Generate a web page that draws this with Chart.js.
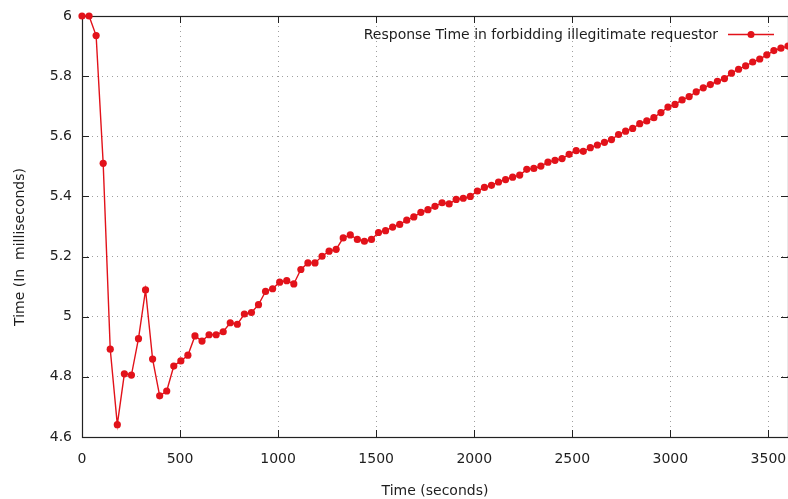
<!DOCTYPE html>
<html><head><meta charset="utf-8">
<script src="https://cdn.jsdelivr.net/npm/chart.js@4/dist/chart.umd.min.js"></script>
<style>
html,body{margin:0;padding:0;overflow:hidden;background:#fff;width:788px;height:499px}
#wrap{position:relative;width:792px;height:499px}
</style>
</head><body><div id="wrap"><canvas id="c"></canvas></div>
<script>
const seriesLabel = 'Response Time in forbidding illegitimate requestor';
const xTitle = 'Time (seconds)';
const yTitle = 'Time (In  milliseconds)';
const timeSeconds = [
  0,36,72,108,144,180,216,252,288,324,
  360,396,432,468,504,540,576,612,648,684,
  720,756,792,828,864,900,936,972,1008,1044,
  1080,1116,1152,1188,1224,1260,1296,1332,1368,1404,
  1440,1476,1512,1548,1584,1620,1656,1692,1728,1764,
  1800,1836,1872,1908,1944,1980,2016,2052,2088,2124,
  2160,2196,2232,2268,2304,2340,2376,2412,2448,2484,
  2520,2556,2592,2628,2664,2700,2736,2772,2808,2844,
  2880,2916,2952,2988,3024,3060,3096,3132,3168,3204,
  3240,3276,3312,3348,3384,3420,3456,3492,3528,3564,
  3600
];
const responseMs = [
  6.0,6.0,5.935,5.51,4.892,4.641,4.81,4.806,4.927,5.089,
  4.859,4.737,4.753,4.836,4.853,4.872,4.936,4.919,4.94,4.94,
  4.95,4.98,4.975,5.009,5.014,5.04,5.084,5.093,5.115,5.12,
  5.109,5.157,5.179,5.179,5.201,5.218,5.224,5.262,5.272,5.257,
  5.251,5.257,5.28,5.286,5.298,5.307,5.321,5.332,5.347,5.356,
  5.367,5.379,5.375,5.39,5.394,5.4,5.418,5.43,5.437,5.448,
  5.456,5.464,5.471,5.49,5.493,5.501,5.514,5.52,5.526,5.54,
  5.552,5.55,5.562,5.571,5.58,5.589,5.606,5.617,5.626,5.642,
  5.651,5.662,5.679,5.697,5.706,5.721,5.732,5.748,5.761,5.772,
  5.783,5.792,5.81,5.823,5.834,5.847,5.857,5.871,5.885,5.893,
  5.9
];
const xTicks = [0,500,1000,1500,2000,2500,3000,3500];
const yTicks = [4.6,4.8,5,5.2,5.4,5.6,5.8,6];

const FONT = 'DejaVu Sans';
const TEXT = '#1e1e1e';
const RED = 'rgb(226,18,26)';

const framePlugin = {
  id: 'frame',
  beforeDatasetsDraw(chart) {
    const {ctx, chartArea: a, scales: {x, y}} = chart;
    ctx.save();
    ctx.strokeStyle = '#222';
    ctx.lineWidth = 1.2;
    ctx.strokeRect(Math.round(a.left) + 0.5, Math.round(a.top) + 0.5,
      Math.round(a.right - a.left), Math.round(a.bottom - a.top));
    ctx.lineWidth = 1;
    ctx.beginPath();
    xTicks.forEach(v => {
      const p = Math.round(x.getPixelForValue(v)) + 0.5;
      ctx.moveTo(p, a.bottom); ctx.lineTo(p, a.bottom - 7);
      ctx.moveTo(p, a.top); ctx.lineTo(p, a.top + 7);
    });
    yTicks.forEach(v => {
      const p = Math.round(y.getPixelForValue(v)) + 0.5;
      ctx.moveTo(a.left, p); ctx.lineTo(a.left + 7, p);
      ctx.moveTo(a.right, p); ctx.lineTo(a.right - 7, p);
    });
    ctx.stroke();
    ctx.restore();
  },
  afterDraw(chart) {
    const {ctx} = chart;
    ctx.save();
    ctx.font = '14px "' + FONT + '"';
    ctx.fillStyle = TEXT;
    ctx.textAlign = 'right';
    ctx.textBaseline = 'middle';
    ctx.fillText(seriesLabel, 718, 35);
    ctx.strokeStyle = RED;
    ctx.lineWidth = 1.5;
    ctx.beginPath();
    ctx.moveTo(728, 34.5); ctx.lineTo(774, 34.5);
    ctx.stroke();
    ctx.fillStyle = RED;
    ctx.beginPath();
    ctx.arc(751, 34.5, 3.5, 0, Math.PI * 2);
    ctx.fill();
    ctx.translate(20, 247);
    ctx.rotate(-Math.PI / 2);
    ctx.textAlign = 'center';
    ctx.fillStyle = TEXT;
    ctx.font = '14px "' + FONT + '"';
    ctx.fillText(yTitle, 0, 0);
    ctx.restore();
  }
};

new Chart(document.getElementById('c'), {
  type: 'line',
  data: {
    datasets: [{
      label: seriesLabel,
      data: timeSeconds.map((t, i) => ({x: t, y: responseMs[i]})),
      borderColor: RED,
      backgroundColor: RED,
      pointBackgroundColor: RED,
      pointBorderColor: RED,
      pointBorderWidth: 0,
      pointRadius: 3.6,
      borderWidth: 1.4,
      tension: 0,
      clip: false
    }]
  },
  options: {
    responsive: true,
    maintainAspectRatio: false,
    animation: false,
    devicePixelRatio: 1,
    layout: {padding: {left: 0, top: 16, right: 2, bottom: 0}},
    plugins: {legend: {display: false}, tooltip: {enabled: false}},
    scales: {
      x: {
        type: 'linear', position: 'bottom', min: 0, max: 3600,
        afterFit: s => { s.height = 62; s.paddingLeft = 0; s.paddingRight = 0; },
        afterBuildTicks: s => { s.ticks = xTicks.map(v => ({value: v})); },
        grid: {color: '#a0a0a0', lineWidth: 1, drawTicks: false},
        border: {display: false, dash: [1, 4]},
        ticks: {padding: 14, color: TEXT, font: {family: FONT, size: 14}, autoSkip: false, maxRotation: 0,
          callback: v => String(v)},
        title: {display: true, text: xTitle, color: TEXT, font: {family: FONT, size: 14}, padding: {top: 0, bottom: -1}}
      },
      y: {
        type: 'linear', min: 4.6, max: 6,
        afterFit: s => { s.width = 82; s.paddingTop = 0; s.paddingBottom = 0; },
        afterBuildTicks: s => { s.ticks = yTicks.map(v => ({value: v})); },
        grid: {color: '#a0a0a0', lineWidth: 1, drawTicks: false},
        border: {display: false, dash: [1, 4]},
        ticks: {padding: 10, color: TEXT, font: {family: FONT, size: 14}, autoSkip: false,
          callback: v => String(v)}
      }
    }
  },
  plugins: [framePlugin]
});
</script>
</body></html>
